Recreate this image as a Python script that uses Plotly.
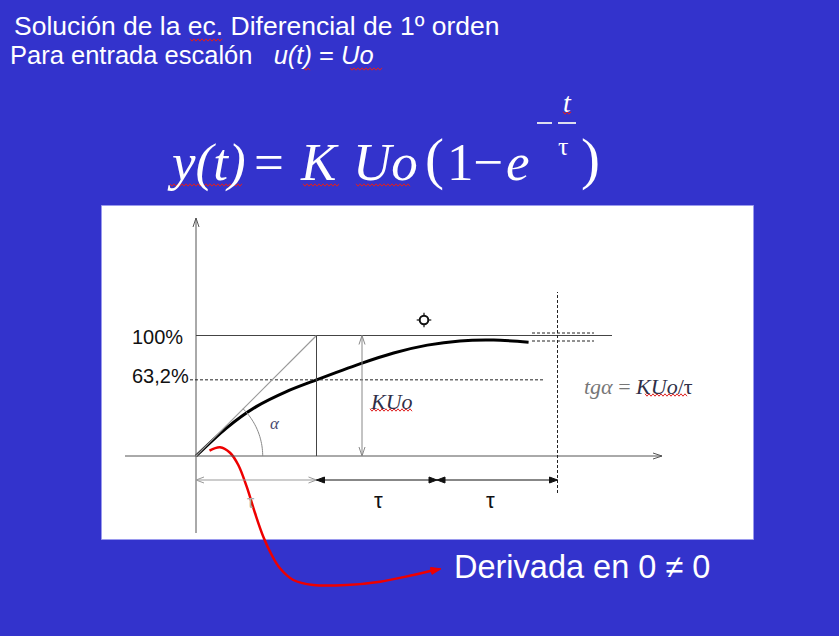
import numpy as np
import plotly.graph_objects as go

# First-order step response, x in units of tau, y in units of K*Uo
curve_t = [0.0, 0.25, 0.5, 0.75, 1.0, 1.36, 1.64, 1.92, 2.19, 2.47, 2.76]
curve_y = [0.0, 0.23, 0.41, 0.535, 0.632, 0.765, 0.855, 0.92, 0.955, 0.962, 0.945]

# reference levels and their labels
level_values = [1.0, 0.632]
level_labels = ["100%", "63,2%"]

# time marks (multiples of tau) used for the dimension arrows
tau_marks = [0, 1, 2, 3]
tau_labels = ["τ", "τ", "τ"]

# ---------------------------------------------------------------- layout frame
W, H = 839, 636
X0, Y0 = 196.0, 456.0      # pixel position of the origin
SX, SY = 120.5, 120.5      # pixels per tau / per K*Uo


def X(px):
    return (px - X0) / SX


def Y(py):
    return (Y0 - py) / SY


BLUE = "#3333cc"
shapes = []
annotations = []


def line(x0, y0, x1, y1, color="#444", width=1, dash=None):
    ln = dict(color=color, width=width)
    if dash:
        ln["dash"] = dash
    shapes.append(dict(type="line", xref="x", yref="y", x0=x0, y0=y0,
                       x1=x1, y1=y1, line=ln, layer="above"))


def path(pts, color="#444", width=1, fill=None, closed=False):
    d = "M " + " L ".join(f"{a:.5f},{b:.5f}" for a, b in pts)
    if closed:
        d += " Z"
    shapes.append(dict(type="path", xref="x", yref="y", path=d,
                       line=dict(color=color, width=width),
                       fillcolor=fill if fill else "rgba(0,0,0,0)",
                       layer="above"))


def head(tx, ty, dx, dy, color, filled, size=8, half=3):
    """arrow head at data point (tx,ty) pointing along pixel direction (dx,dy)"""
    n = np.hypot(dx, dy)
    ux, uy = dx / n, dy / n
    px, py = tx * SX + X0, Y0 - ty * SY
    bx, by = px - ux * size, py - uy * size
    p1 = (X(bx - uy * half), Y(by + ux * half))
    p2 = (X(bx + uy * half), Y(by - ux * half))
    if filled:
        path([p1, (tx, ty), p2], color=color, width=1, fill=color, closed=True)
    else:
        path([p1, (tx, ty), p2], color=color, width=1)


def text(px, py, s, size, color, family="Liberation Sans", anchor="left"):
    annotations.append(dict(x=X(px), y=Y(py), xref="x", yref="y", text=s,
                            showarrow=False, xanchor=anchor, yanchor="middle",
                            font=dict(size=size, color=color, family=family),
                            borderpad=0))


def squiggle(px0, px1, py, color="#e02020"):
    xs = np.arange(px0, px1 + 0.1, 2.0)
    ys = [py + (1.2 if i % 2 else -1.2) for i in range(len(xs))]
    path([(X(a), Y(b)) for a, b in zip(xs, ys)], color=color, width=1)


# white drawing panel
shapes.append(dict(type="rect", xref="x", yref="y", x0=X(101.5), x1=X(753.5),
                   y0=Y(539.5), y1=Y(205.5), fillcolor="white",
                   line=dict(color="#9a9aee", width=1), layer="below"))

# axes with open arrow heads
line(0, Y(533), 0, Y(218), color="#555")
head(0, Y(218), 0, -1, "#555", False, size=9, half=3)
line(X(125), 0, X(662), 0, color="#555")
head(X(662), 0, 1, 0, "#555", False, size=9, half=3)

# 100 % and 63.2 % levels
line(0, level_values[0], X(612), level_values[0], color="#444")
line(X(190), level_values[1], X(545), level_values[1], color="#222",
     dash="3px,2px")

# tangent at the origin and vertical at t = tau
line(0, 0, tau_marks[1], level_values[0], color="#999", width=1.2)
line(tau_marks[1], 0, tau_marks[1], level_values[0], color="#444")

# K*Uo double arrow
kx = X(362)
line(kx, 0, kx, level_values[0], color="#888")
head(kx, level_values[0], 0, -1, "#888", False, size=9, half=3)
head(kx, 0, 0, 1, "#888", False, size=9, half=3)

# settling guide at 3 tau
line(tau_marks[3], Y(493), tau_marks[3], Y(292), color="#222", dash="3px,2px")
line(X(532), Y(333), X(594), Y(333), color="#222", dash="3px,2px")
line(X(532), Y(341), X(594), Y(341), color="#222", dash="3px,2px")

# angle alpha arc
ang = np.linspace(0, np.pi / 4, 30)
r = 66.7
path([(r * np.cos(a) / SX, r * np.sin(a) / SY) for a in ang], color="#888")

# dimension arrows below the axis
yd = Y(480)
dim_colors = ["#999", "#111", "#111"]
for i in range(3):
    a, b = tau_marks[i], tau_marks[i + 1]
    c = dim_colors[i]
    line(a, yd, b, yd, color=c)
    head(b, yd, 1, 0, c, i > 0, size=8, half=3)
    head(a, yd, -1, 0, c, i > 0, size=8, half=3)

# small crosshair marker
cx, cy, cr = 424, 320, 4.3
shapes.append(dict(type="circle", xref="x", yref="y", x0=X(cx - cr),
                   x1=X(cx + cr), y0=Y(cy + cr), y1=Y(cy - cr),
                   line=dict(color="#111", width=2), layer="above"))
for dx, dy in [(1, 0), (-1, 0), (0, 1), (0, -1)]:
    line(X(cx + dx * cr), Y(cy + dy * cr), X(cx + dx * (cr + 3)),
         Y(cy + dy * (cr + 3)), color="#111", width=1.2)

# ------------------------------------------------------------------ traces
fig = go.Figure()
fig.add_trace(go.Scatter(x=curve_t, y=curve_y, mode="lines",
                         line=dict(color="black", width=3, shape="spline",
                                   smoothing=0.8),
                         hoverinfo="skip", showlegend=False))

# red callout from the origin slope to the note
red_px = [(209.5, 450.7), (220, 447.3), (230, 452.7), (238.3, 465),
          (246.7, 486.7), (255, 513), (263.3, 536.7), (271.7, 555),
          (280, 568.3), (293.3, 580), (313.3, 585), (346.7, 585),
          (380, 581.7), (413.3, 575), (436, 569.8)]
fig.add_trace(go.Scatter(x=[X(a) for a, b in red_px], y=[Y(b) for a, b in red_px],
                         mode="lines", line=dict(color="#ee0000", width=2.5,
                                                 shape="spline"),
                         hoverinfo="skip", showlegend=False))
head(X(441), Y(568.8), 1, -0.22, "#ee0000", True, size=10, half=3.5)

# ------------------------------------------------------------------ texts
WHITE = "white"
text(13, 25.5, "Solución de la ec. Diferencial de 1º orden", 26.5, WHITE)
text(9, 55, "Para entrada escalón\u00a0\u00a0 <i>u(t)</i> = <i>Uo</i>", 25.5, WHITE)
squiggle(190, 222, 40)
squiggle(304, 311, 69)
squiggle(350, 382, 69)

SERIF = "Liberation Serif"
EQ = 53
eq_y = 162
text(166, eq_y, "<i>y(t)</i>", EQ, WHITE, SERIF)
text(253, eq_y, "=", EQ, WHITE, SERIF)
text(299, eq_y, "<i>K</i>", EQ, WHITE, SERIF)
text(352, eq_y, "<i>Uo</i>", EQ, WHITE, SERIF)
text(424, eq_y - 3, "(", EQ + 4, WHITE, SERIF)
text(446, eq_y, "1−", EQ, WHITE, SERIF)
text(505, eq_y, "<i>e</i>", EQ, WHITE, SERIF)
text(580, eq_y - 3, ")", EQ + 4, WHITE, SERIF)
line(X(537), Y(123), X(552), Y(123), color="#dde", width=2)
line(X(558), Y(123), X(576), Y(123), color="#dde", width=2)
text(567, 102, "<i>t</i>", 28, WHITE, SERIF, anchor="center")
text(563, 146, "τ", 26, WHITE, SERIF, anchor="center")
squiggle(170, 243, 185)
squiggle(303, 340, 185)
squiggle(356, 410, 185)
squiggle(563, 571, 113)

text(184, 336.5, level_labels[0], 20, "#111", anchor="right")
text(190, 375.5, level_labels[1], 20, "#111", anchor="right")

text(369, 401, "<i>KUo</i>", 22, "#2f2f48", SERIF)
squiggle(370, 413, 410)
text(275, 423, "<i>α</i>", 17, "#4a4a70", SERIF, anchor="center")

text(583, 386,
     "<span style='color:#777'><i>tgα</i> =</span> <i>KUo</i>/τ", 22,
     "#2f2f48", SERIF)
squiggle(645, 688, 395)

text(378, 500, tau_labels[1], 22, "#111", anchor="center")
text(490, 500, tau_labels[2], 22, "#111", anchor="center")
text(250, 502, tau_labels[0], 18, "#aaa", anchor="center")

text(453, 567, "Derivada en 0 ≠ 0", 32.5, WHITE)

fig.update_layout(
    width=W, height=H,
    margin=dict(l=0, r=0, t=0, b=0),
    paper_bgcolor=BLUE, plot_bgcolor=BLUE,
    xaxis=dict(range=[X(0), X(W)], visible=False, fixedrange=True),
    yaxis=dict(range=[Y(H), Y(0)], visible=False, fixedrange=True),
    shapes=shapes, annotations=annotations, showlegend=False,
)
fig.write_html("out.html")
